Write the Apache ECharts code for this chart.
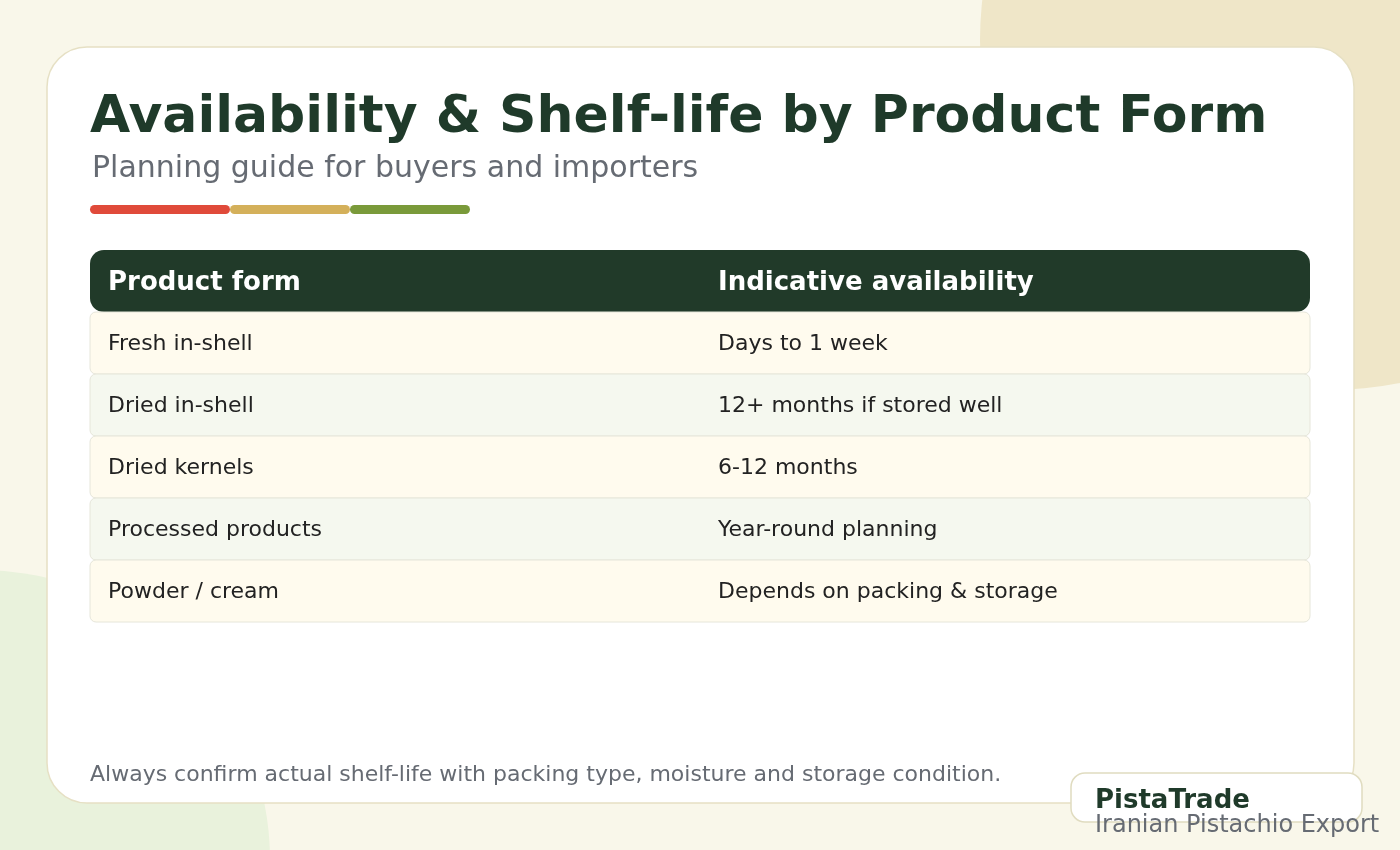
<!DOCTYPE html>
<html>
<head>
<meta charset="utf-8">
<script src="https://cdn.jsdelivr.net/npm/echarts@6/dist/echarts.min.js"></script>
<style>
  html, body { margin: 0; padding: 0; background: #f9f7ea; }
  #main { width: 1400px; height: 850px; }
</style>
</head>
<body>
<div id="main"></div>
<script>
var titleText = 'Availability & Shelf-life by Product Form';
var subtitleText = 'Planning guide for buyers and importers';
var headers = ['Product form', 'Indicative availability'];
var productForms = ['Fresh in-shell', 'Dried in-shell', 'Dried kernels', 'Processed products', 'Powder / cream'];
var availability = ['Days to 1 week', '12+ months if stored well', '6-12 months', 'Year-round planning', 'Depends on packing & storage'];
var footnote = 'Always confirm actual shelf-life with packing type, moisture and storage condition.';
var brandName = 'PistaTrade';
var brandTag = 'Iranian Pistachio Export';

var font = 'DejaVu Sans';
var chart = echarts.init(document.getElementById('main'));
var g = [];

// background shapes
g.push({ type: 'circle', shape: { cx: 1330, cy: 40, r: 350 }, style: { fill: '#efe6c8' } });
g.push({ type: 'circle', shape: { cx: -20, cy: 860, r: 290 }, style: { fill: '#e9f2dc' } });

// card
g.push({ type: 'rect', shape: { x: 47, y: 47, width: 1307, height: 756, r: 40 },
  style: { fill: '#ffffff', stroke: '#e6e0c4', lineWidth: 1.5 } });

g.push({ type: 'text', x: 90, y: 118, style: { text: titleText, font: 'bold 52px ' + font, fill: '#1f3a2a', verticalAlign: 'middle' } });
g.push({ type: 'text', x: 92, y: 169, style: { text: subtitleText, font: '30px ' + font, fill: '#666b73', verticalAlign: 'middle' } });

var bars = [[90, 230, '#e04a3a'], [230, 350, '#d4b05a'], [350, 470, '#7a9a3a']];
bars.forEach(function (b) {
  g.push({ type: 'rect', shape: { x: b[0], y: 205, width: b[1] - b[0], height: 9, r: 4.5 }, style: { fill: b[2] } });
});

// table header
var tx = 90, tw = 1220, colX = [108, 718], rowH = 62;
g.push({ type: 'rect', shape: { x: tx, y: 250, width: tw, height: 62, r: 14 }, style: { fill: '#213a29' } });
headers.forEach(function (h, i) {
  g.push({ type: 'text', x: colX[i], y: 283, style: { text: h, font: 'bold 26px ' + font, fill: '#ffffff', verticalAlign: 'middle' } });
});

productForms.forEach(function (p, i) {
  var y = 312 + i * rowH;
  g.push({ type: 'rect', shape: { x: tx, y: y, width: tw, height: rowH, r: 6 },
    style: { fill: i % 2 ? '#f5f8ef' : '#fffbee', stroke: '#e6e6da', lineWidth: 1 } });
  g.push({ type: 'text', x: colX[0], y: y + 32, style: { text: p, font: '22px ' + font, fill: '#222222', verticalAlign: 'middle' } });
  g.push({ type: 'text', x: colX[1], y: y + 32, style: { text: availability[i], font: '22px ' + font, fill: '#222222', verticalAlign: 'middle' } });
});

g.push({ type: 'text', x: 90, y: 775, style: { text: footnote, font: '22px ' + font, fill: '#666b73', verticalAlign: 'middle' } });

// brand box
g.push({ type: 'rect', shape: { x: 1071, y: 773, width: 291, height: 49, r: 14 },
  style: { fill: '#ffffff', stroke: '#e0dcc0', lineWidth: 1.5 } });
g.push({ type: 'text', x: 1095, y: 801, style: { text: brandName, font: 'bold 26px ' + font, fill: '#1f3a2a', verticalAlign: 'middle' } });
g.push({ type: 'text', x: 1095, y: 826, style: { text: brandTag, font: '24px ' + font, fill: '#666b73', verticalAlign: 'middle' } });

chart.setOption({ animation: false, graphic: { elements: g } });
window.onresize = chart.resize;
</script>
</body>
</html>
